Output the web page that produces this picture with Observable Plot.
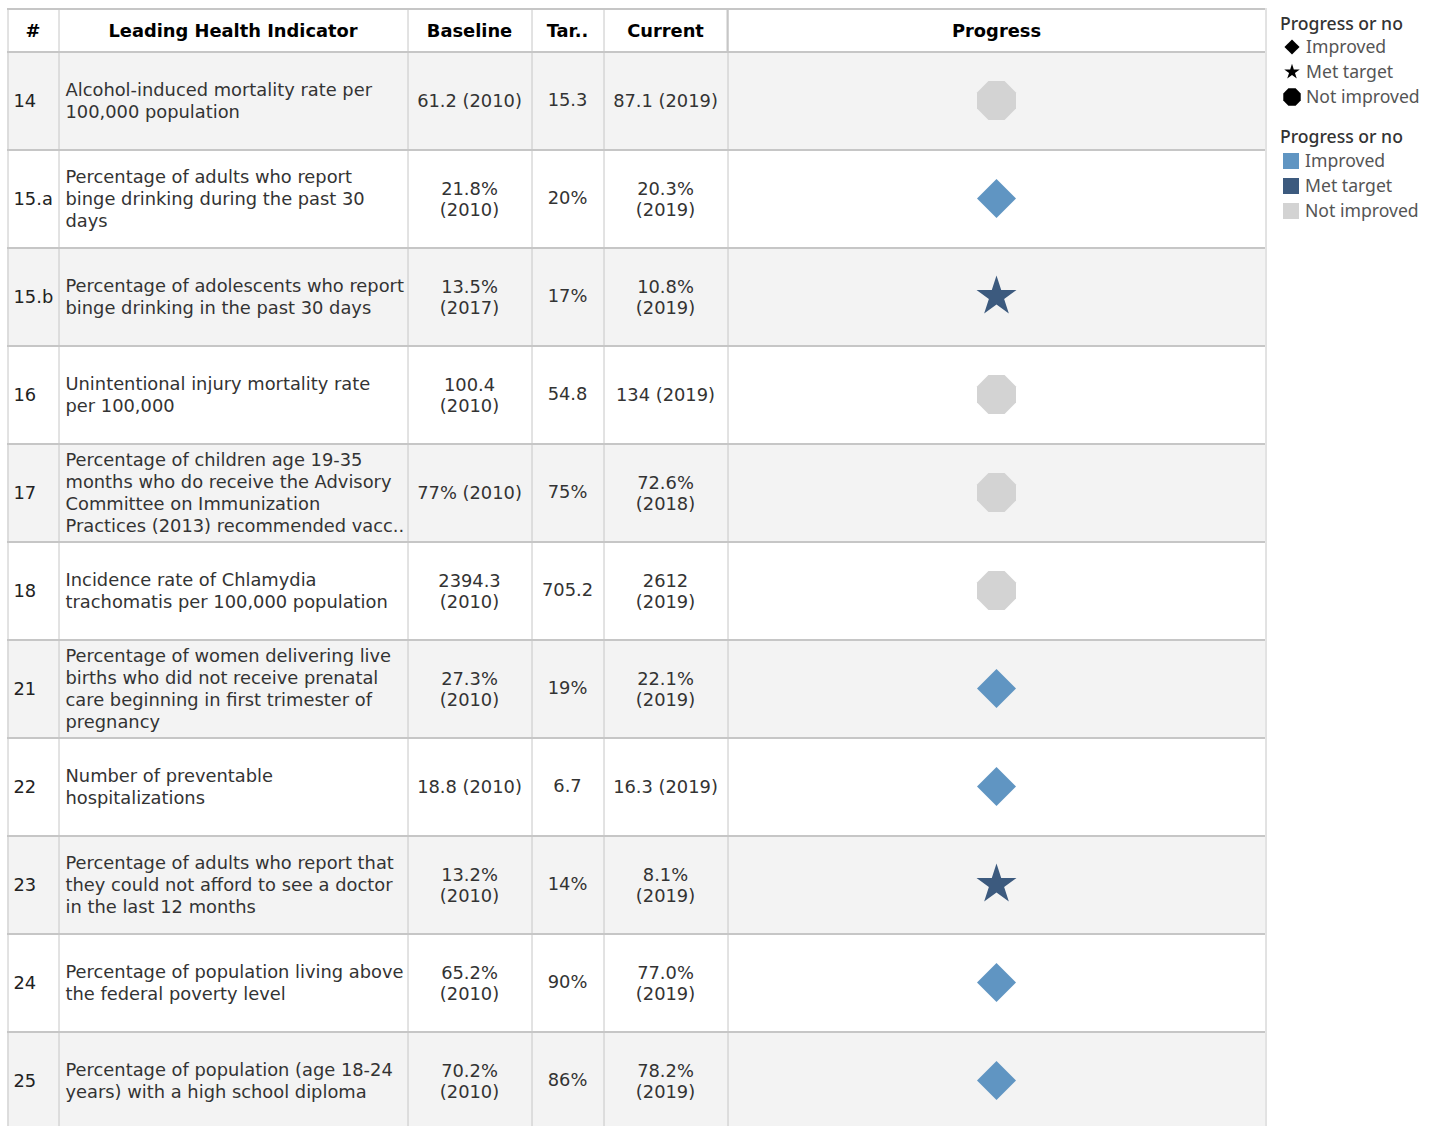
<!DOCTYPE html>
<html><head><meta charset="utf-8">
<script src="https://cdn.jsdelivr.net/npm/d3@7"></script>
<script src="https://cdn.jsdelivr.net/npm/@observablehq/plot@0.6"></script>
<style>
html,body{margin:0;padding:0;background:#fff;overflow:hidden;}
#wrap{position:relative;width:1438px;height:1126px;overflow:hidden;}
#head{position:absolute;left:0;top:0;}
#body{position:absolute;left:0;top:51px;}
#legend{position:absolute;left:1270px;top:0;}
</style></head><body>
<div id="wrap"><div id="head"></div><div id="body"></div><div id="legend"></div></div>
<script>
// ---- data ----
const ids = ["14","15.a","15.b","16","17","18","21","22","23","24","25"];
const indicators = [
  "Alcohol-induced mortality rate per\n100,000 population",
  "Percentage of adults who report\nbinge drinking during the past 30\ndays",
  "Percentage of adolescents who report\nbinge drinking in the past 30 days",
  "Unintentional injury mortality rate\nper 100,000",
  "Percentage of children age 19-35\nmonths who do receive the Advisory\nCommittee on Immunization\nPractices (2013) recommended vacc..",
  "Incidence rate of Chlamydia\ntrachomatis per 100,000 population",
  "Percentage of women delivering live\nbirths who did not receive prenatal\ncare beginning in first trimester of\npregnancy",
  "Number of preventable\nhospitalizations",
  "Percentage of adults who report that\nthey could not afford to see a doctor\nin the last 12 months",
  "Percentage of population living above\nthe federal poverty level",
  "Percentage of population (age 18-24\nyears) with a high school diploma"
];
const baseline = ["61.2 (2010)","21.8%\n(2010)","13.5%\n(2017)","100.4\n(2010)","77% (2010)","2394.3\n(2010)","27.3%\n(2010)","18.8 (2010)","13.2%\n(2010)","65.2%\n(2010)","70.2%\n(2010)"];
const target = ["15.3","20%","17%","54.8","75%","705.2","19%","6.7","14%","90%","86%"];
const current = ["87.1 (2019)","20.3%\n(2019)","10.8%\n(2019)","134 (2019)","72.6%\n(2018)","2612\n(2019)","22.1%\n(2019)","16.3 (2019)","8.1%\n(2019)","77.0%\n(2019)","78.2%\n(2019)"];
const progress = ["Not improved","Improved","Met target","Not improved","Not improved","Not improved","Improved","Improved","Met target","Improved","Improved"];
const columns = ["#","Leading Health Indicator","Baseline","Tar..","Current","Progress"];
const categories = ["Improved","Met target","Not improved"];
const catColors = ["#6095c2","#3c5a7e","#d3d3d3"];
const legendTitle = "Progress or no";

// ---- layout ----
const colWidths = [51,349,124,72,124,538];
const colStart = colWidths.map((w,i)=>d3.sum(colWidths.slice(0,i)));
const total = d3.sum(colWidths);
const cols = columns.map((name,i)=>({name, x0:colStart[i], x1:colStart[i]+colWidths[i], cx:colStart[i]+colWidths[i]/2}));
const bounds = [...colStart, total];
const rowH = 98;
const FONT = "DejaVu Sans, Verdana, sans-serif";
const FS = 17.85;
const LINE = "#c6c6c6";

// custom symbols (size measured relative to r=10)
const unit = Math.sqrt(Math.PI*100);
const diamondSym = {draw(ctx, size){const k=Math.sqrt(size)/unit, r=19.5*k; ctx.moveTo(0,-r);ctx.lineTo(r,0);ctx.lineTo(0,r);ctx.lineTo(-r,0);ctx.closePath();}};
const starSym = {draw(ctx, size){const k=Math.sqrt(size)/unit, r=21*k; d3.symbolStar.draw(ctx, r*r/0.8908130915292852);}};
const octSym = {draw(ctx, size){const k=Math.sqrt(size)/unit, a=19.5*k, R=a/Math.cos(Math.PI/8);
  for(let i=0;i<8;i++){const t=Math.PI/8+i*Math.PI/4; const x=R*Math.cos(t), y=R*Math.sin(t); if(i===0)ctx.moveTo(x,y); else ctx.lineTo(x,y);} ctx.closePath();}};
const catSymbols = [diamondSym, starSym, octSym];

const xScale = {type:"linear", domain:[0,total], range:[7,1265]};

// ---- header ----
const head = Plot.plot({
  width:1270, height:51, marginTop:8, marginBottom:0, marginLeft:0, marginRight:0,
  x:{...xScale, axis:null},
  y:{type:"band", domain:["h"], padding:0, axis:null},
  style:{fontFamily:FONT, background:"transparent"},
  marks:[
    Plot.barX(cols,{x1:"x0", x2:"x1", y:()=>"h", fill:"white"}),
    Plot.barX([0],{x1:()=>0, x2:()=>total, y:()=>"h", fill:LINE, insetBottom:41}),
    Plot.ruleX(bounds,{x:d=>d, stroke:LINE, strokeWidth:1, dx:0.5}),
    Plot.ruleX([colStart[5]],{x:d=>d, stroke:LINE, strokeWidth:2, dx:0}),
    Plot.text(cols,{x:"cx", y:()=>"h", text:"name", fontWeight:"bold", fontSize:FS, fill:"#000", dy:1.5})
  ]
});
document.getElementById("head").appendChild(head);

// ---- body ----
const rows = ids.map((id,i)=>({id, i, ind:indicators[i], base:baseline[i], tgt:target[i], cur:current[i], prog:progress[i]}));
const body = Plot.plot({
  width:1270, height:rowH*ids.length, marginTop:0, marginBottom:0, marginLeft:0, marginRight:0,
  x:{...xScale, axis:null},
  y:{type:"band", domain:ids, padding:0, axis:null},
  symbol:{domain:categories, range:catSymbols},
  color:{domain:categories, range:catColors},
  style:{fontFamily:FONT, background:"transparent"},
  marks:[
    Plot.barX(rows,{x1:()=>0, x2:()=>total, y:"id", fill:d=>d.i%2===0?"#f3f3f3":"#ffffff"}),
    Plot.barX(rows,{x1:()=>0, x2:()=>total, y:"id", fill:LINE, insetBottom:rowH-2}),
    Plot.ruleX(bounds,{x:d=>d, stroke:LINE, strokeWidth:1, dx:0.5}),
    Plot.text(rows,{x:()=>colStart[0], dx:6, dy:1, y:"id", text:"id", textAnchor:"start", fontSize:FS, fill:"#222"}),
    Plot.text(rows,{x:()=>colStart[1], dx:7, dy:-0.5, y:"id", text:"ind", textAnchor:"start", lineAnchor:"middle", lineHeight:22/FS, fontSize:FS, fill:"#333"}),
    Plot.text(rows,{x:()=>cols[2].cx, y:"id", text:"base", lineAnchor:"middle", lineHeight:21.5/FS, fontSize:FS, fill:"#333"}),
    Plot.text(rows,{x:()=>cols[3].cx, y:"id", text:"tgt", lineAnchor:"middle", fontSize:FS, fill:"#333"}),
    Plot.text(rows,{x:()=>cols[4].cx, y:"id", text:"cur", lineAnchor:"middle", lineHeight:21.5/FS, fontSize:FS, fill:"#333"}),
    Plot.dot(rows,{x:()=>cols[5].cx, y:"id", symbol:"prog", fill:"prog", r:10, stroke:"none"})
  ]
});
document.getElementById("body").appendChild(body);

// ---- legend ----
const LF = "'Noto Sans', 'Open Sans', sans-serif";
const LFS = 17.6;
const leg = d3.create("svg").attr("width",168).attr("height",230).style("font-family",LF);
leg.append("text").attr("x",10).attr("y",24).attr("dy","0.35em").attr("font-size",LFS).attr("font-weight",500).attr("fill","#333").text(legendTitle);
categories.forEach((c,i)=>{
  const y = 47 + i*25;
  leg.append("path").attr("transform",`translate(22,${y})`).attr("d",d3.symbol().type(catSymbols[i]).size(Math.PI*100*(i===2?0.2:0.15))()).attr("fill","#000");
  leg.append("text").attr("x",36).attr("y",y).attr("dy","0.35em").attr("font-size",LFS).attr("fill","#555").text(c);
});
leg.append("text").attr("x",10).attr("y",137).attr("dy","0.35em").attr("font-size",LFS).attr("font-weight",500).attr("fill","#333").text(legendTitle);
categories.forEach((c,i)=>{
  const y = 161 + i*25;
  leg.append("rect").attr("x",13).attr("y",y-8).attr("width",16).attr("height",16).attr("fill",catColors[i]);
  leg.append("text").attr("x",35).attr("y",y).attr("dy","0.35em").attr("font-size",LFS).attr("fill","#555").text(c);
});
document.getElementById("legend").appendChild(leg.node());
</script>
</body></html>
